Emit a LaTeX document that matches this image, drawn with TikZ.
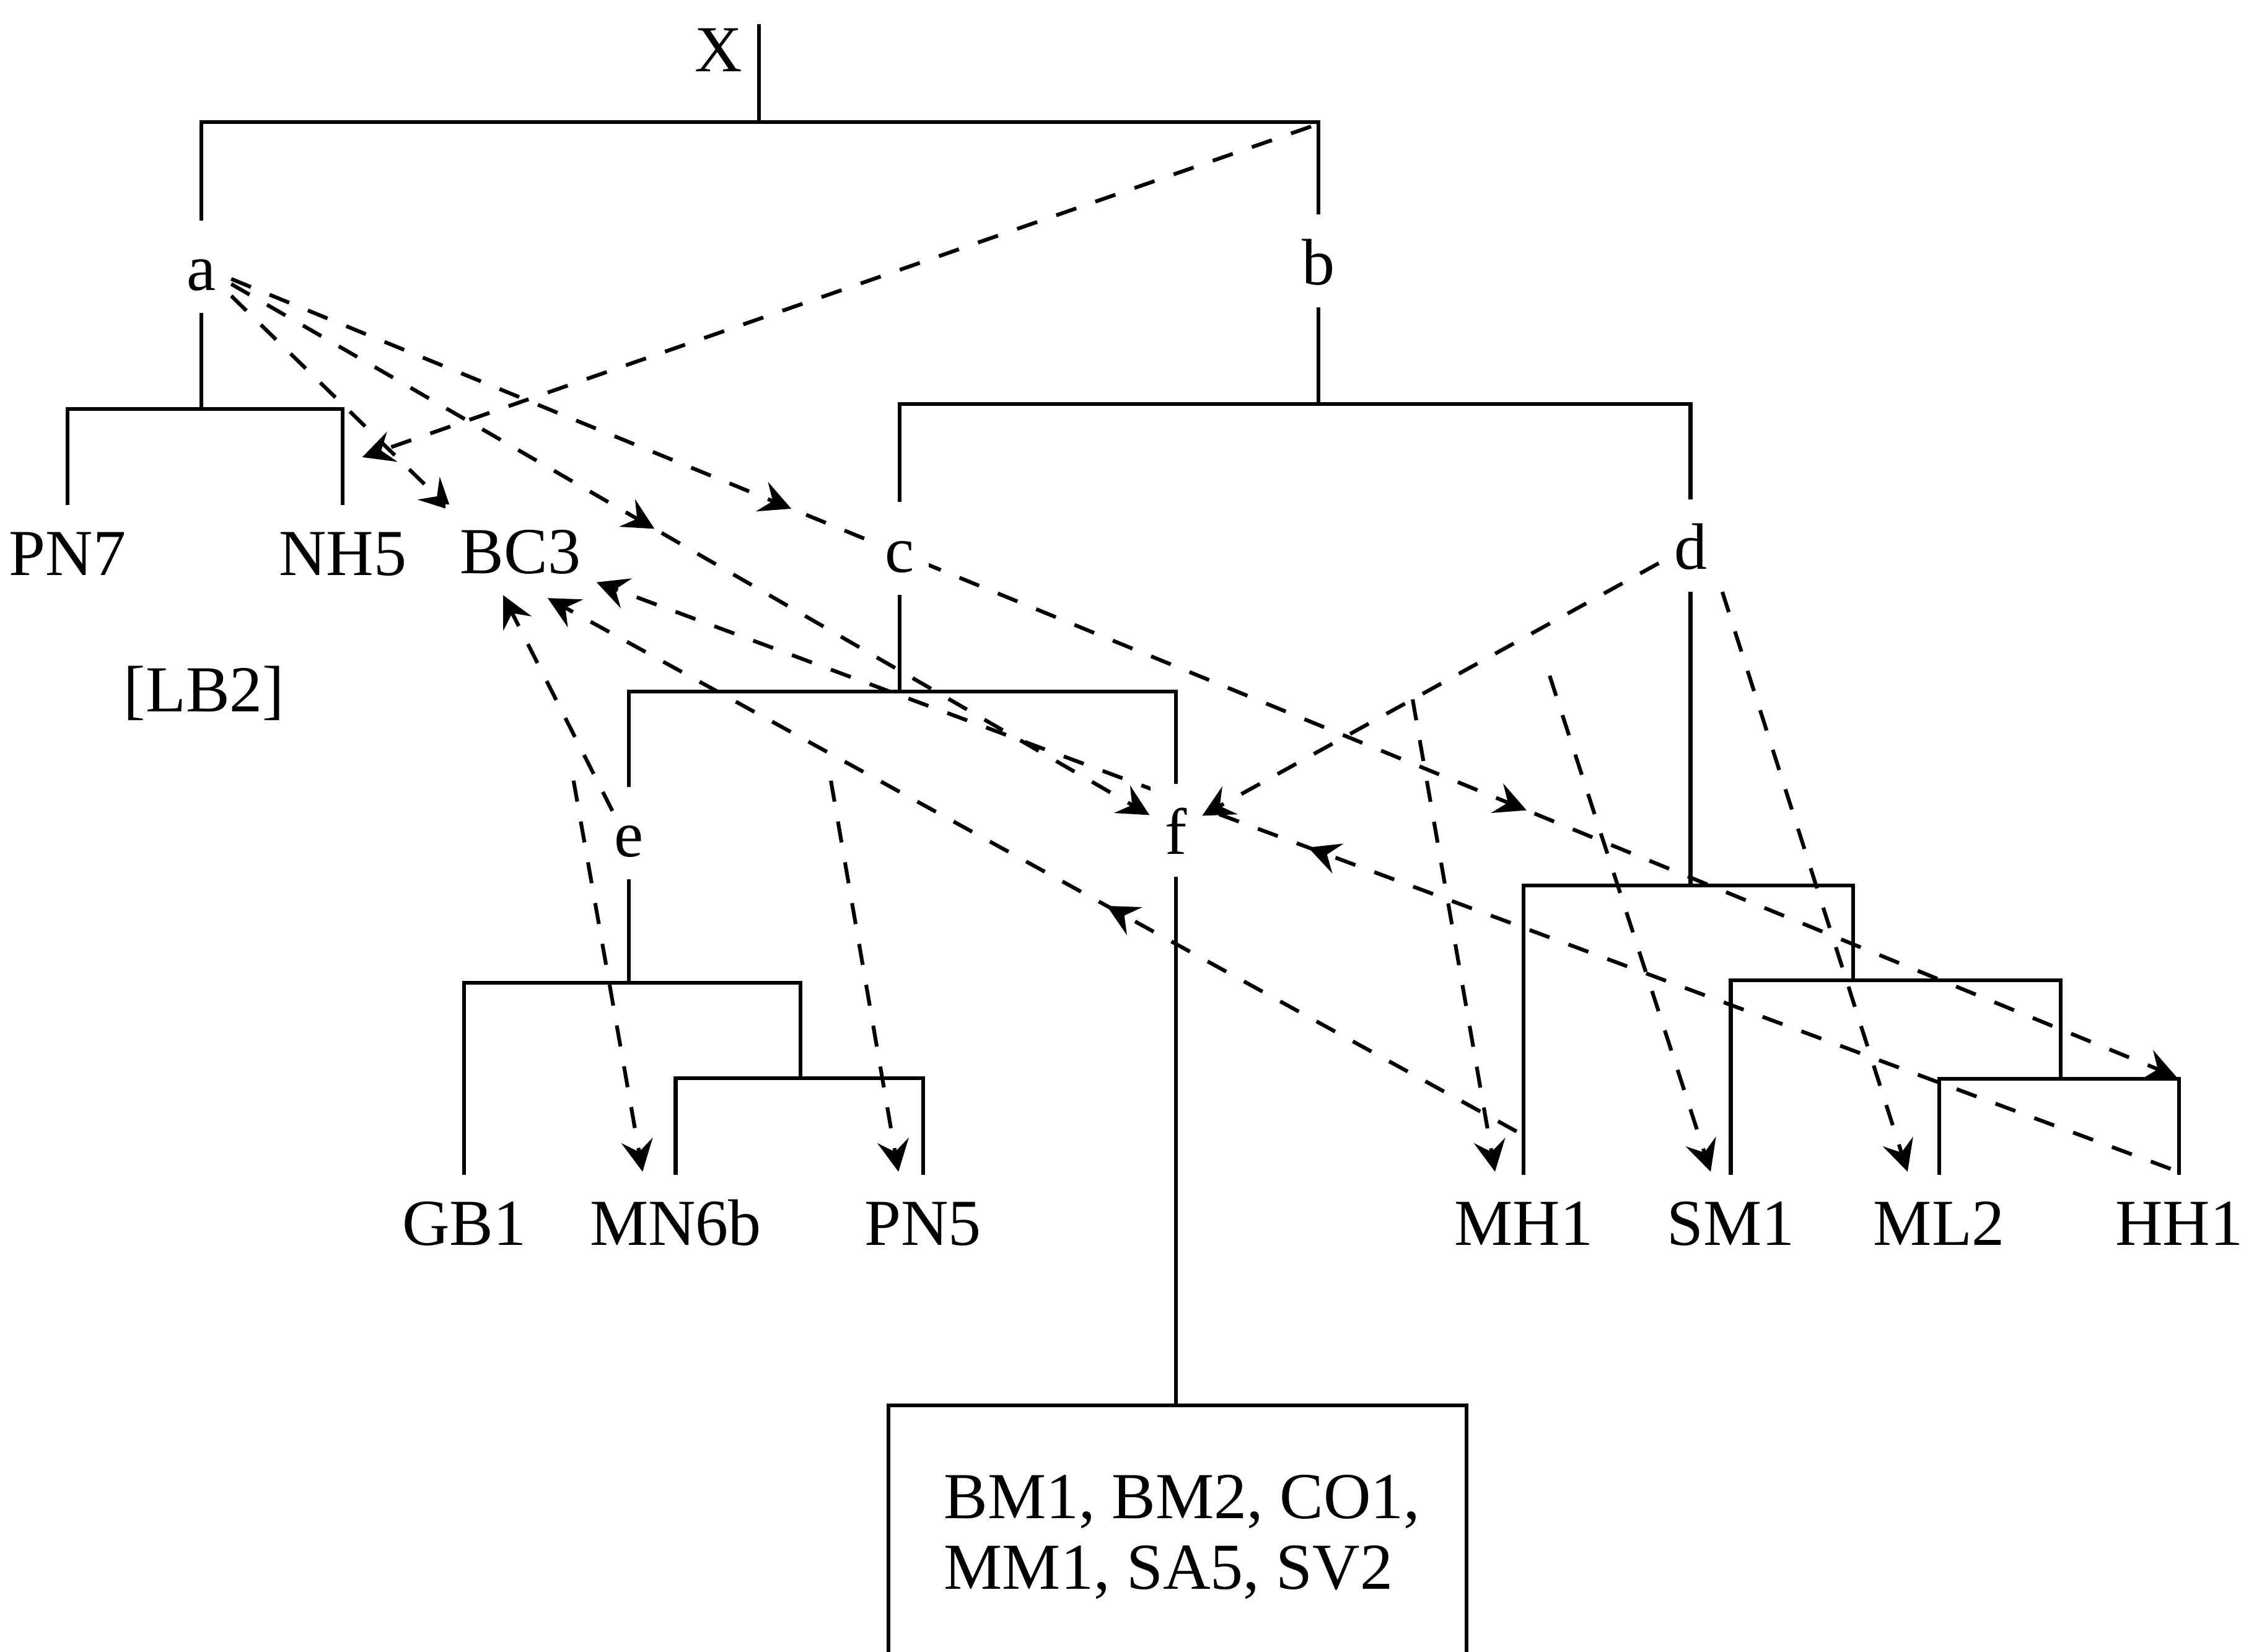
\documentclass[tikz,border=0pt]{standalone}
\usepackage{fontspec}
\setmainfont{Liberation Serif}
\usetikzlibrary{arrows.meta, calc, backgrounds, decorations.markings}
\tikzset{
  % Arrow tip used on every dashed link.
  ltip/.tip={Stealth[length=2.2mm, width=2.2mm, inset=0.8mm]},
  % Tree labels: fixed box height so the branches stop with the same gap.
  tag/.style={
    inner xsep=0.1cm, inner ysep=0.12cm,
    text height=0.36cm, text depth=0.03cm,
    fill=white, anchor=base,
    font=\fontsize{13}{14}\selectfont,
  },
  % Solid branches of the tree.
  branch/.style={line width=0.75pt},
  % Dashed links.
  link/.style={
    -{ltip}, line width=0.75pt,
    dash pattern=on 4.2pt off 4pt,
  },
  % Extra arrow tip part way along a link.
  midtip/.style={
    postaction={decorate, decoration={markings,
      mark=at position #1 with {\arrow{ltip}}}},
  },
}

\begin{document}
\begin{tikzpicture}[x=1cm, y=1cm]
  \useasboundingbox (0,0) rectangle (15.68,-11.49);

  % Inner labels.
  \node[tag] (X) at (5.00,-0.50) {X};
  \node[tag] (a) at (1.40,-2.02) {a};
  \node[tag] (b) at (9.17,-1.98) {b};
  \node[tag] (c) at (6.26,-3.98) {c};
  \node[tag] (d) at (11.76,-3.96) {d};
  \node[tag] (e) at (4.375,-5.96) {e};
  \node[tag] (f) at (8.18,-5.94) {f};

  % Leaves.
  \node[tag] (PN7) at (0.47,-4.00) {PN7};
  \node[tag] (NH5) at (2.385,-4.00) {NH5};
  \node[tag] (BC3) at (3.62,-3.99) {BC3};
  \node[tag] (LB2) at (1.42,-4.95) {[LB2]};
  \node[tag] (GB1) at (3.23,-8.66) {GB1};
  \node[tag] (MN6b) at (4.70,-8.66) {MN6b};
  \node[tag] (PN5) at (6.42,-8.66) {PN5};
  \node[tag] (MH1) at (10.60,-8.66) {MH1};
  \node[tag] (SM1) at (12.04,-8.66) {SM1};
  \node[tag] (ML2) at (13.49,-8.66) {ML2};
  \node[tag] (HH1) at (15.16,-8.66) {HH1};

  \node[anchor=north west, align=left, inner sep=0pt,
        font=\fontsize{13}{14}\selectfont] (flist) at (6.56,-10.25)
    {BM1, BM2, CO1,\\MM1, SA5, SV2};

  % Joints of the tree.
  \coordinate (root) at (5.28,-0.17);
  \coordinate (xbar) at (5.28,-0.85);
  \coordinate (abar) at (1.40,-2.845);
  \coordinate (bbar) at (9.17,-2.81);
  \coordinate (cbar) at (6.26,-4.81);
  \coordinate (ebar) at (4.375,-6.835);
  \coordinate (ejoin) at (5.57,-7.50);
  \coordinate (dbar) at (11.76,-6.16);
  \coordinate (djoin) at (12.89,-6.82);
  \coordinate (sjoin) at (14.335,-7.505);
  \coordinate (ftop) at (8.18,-9.775);
  \coordinate (boxl) at (6.18,-11.6);
  \coordinate (boxr) at (10.20,-11.6);

  % Solid tree.
  \draw[branch] (root) -- (xbar);
  \draw[branch] (a) |- (xbar) -| (b);
  \draw[branch] (a) -- (abar);
  \draw[branch] (PN7) |- (abar) -| (NH5);
  \draw[branch] (b) -- (bbar);
  \draw[branch] (c) |- (bbar) -| (d);
  \draw[branch] (c) -- (cbar);
  \draw[branch] (e) |- (cbar) -| (f);
  \draw[branch] (e) -- (ebar);
  \draw[branch] (GB1) |- (ebar) -| (ejoin);
  \draw[branch] (MN6b) |- (ejoin) -| (PN5);
  \draw[branch] (d) -- (dbar);
  \draw[branch] (MH1) |- (dbar) -| (djoin);
  \draw[branch] (SM1) |- (djoin) -| (sjoin);
  \draw[branch] (ML2) |- (sjoin) -| (HH1);
  \draw[branch] (f) -- (ftop);
  \draw[branch] (boxl) |- (ftop) -| (boxr);

  % Free ends of the dashed links.
  \coordinate (bturn) at (9.12,-0.88);
  \coordinate (nhtip) at (2.52,-3.18);
  \coordinate (bctipA) at (3.14,-3.55);
  \coordinate (bctipB) at (3.81,-4.16);
  \coordinate (bctipC) at (4.15,-4.05);
  \coordinate (bctipD) at (3.50,-4.14);
  \coordinate (hhcorner) at (15.14,-7.49);
  \coordinate (mhfoot) at (10.55,-7.87);
  \coordinate (hhfoot) at (15.10,-8.13);
  \coordinate (efoot) at (4.26,-5.64);
  \coordinate (mnhead) at (3.99,-5.43);
  \coordinate (mntip) at (4.47,-8.15);
  \coordinate (pnhead) at (5.78,-5.43);
  \coordinate (pntip) at (6.25,-8.15);
  \coordinate (dfork) at ($(d)!0.54!(f)$);
  \coordinate (mhtip) at (10.40,-8.15);
  \coordinate (smhead) at (10.78,-4.70);
  \coordinate (smtip) at (11.90,-8.15);
  \coordinate (mltip) at (13.27,-8.15);

  % Dashed links, under the labels.
  \begin{scope}[on background layer]
    \draw[link] (bturn) -- (nhtip);
    \draw[link] (a) -- (bctipA);
    \draw[link, midtip=0.461] (a) -- (f);
    \draw[link, midtip=0.288, midtip=0.666] (a) -- (hhcorner);
    \draw[link, midtip=0.423] (mhfoot) -- (bctipB);
    \draw[link, midtip=0.548] (hhfoot) -- (bctipC);
    \draw[link] (mnhead) -- (mntip);
    \draw[link] (pnhead) -- (pntip);
    \draw[link] (d) -- (f);
    \draw[link] (dfork) -- (mhtip);
    \draw[link] (smhead) -- (smtip);
    \draw[link] (d.south east) -- (mltip);
  \end{scope}
  % this one runs right up to the e
  \draw[link] (efoot) -- (bctipD);

\end{tikzpicture}
\end{document}
